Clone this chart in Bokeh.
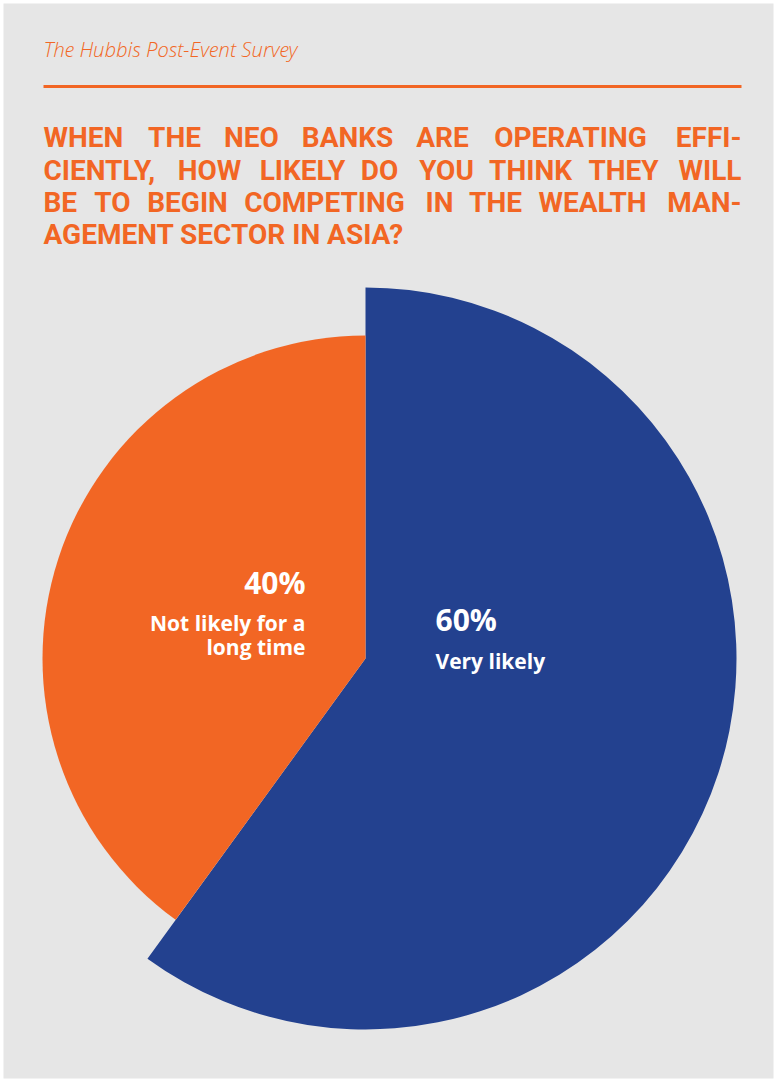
import math
from bokeh.plotting import figure
from bokeh.models import Range1d, BoxAnnotation
from bokeh.core.properties import value
from bokeh.embed import file_html
from bokeh.resources import INLINE

# ---- data ----
categories = ["Very likely", "Not likely for a long time"]
shares = [60, 40]
pct_labels = ["60%", "40%"]
label_lines = [["Very likely"], ["Not likely for a", "long time"]]

subtitle = "The Hubbis Post-Event Survey"
title_lines = [
    ["WHEN", "THE", "NEO", "BANKS", "ARE", "OPERATING", "EFFI-"],
    ["CIENTLY,", "HOW", "LIKELY", "DO", "YOU", "THINK", "THEY", "WILL"],
    ["BE", "TO", "BEGIN", "COMPETING", "IN", "THE", "WEALTH", "MAN-"],
    ["AGEMENT", "SECTOR", "IN", "ASIA?"],
]

# ---- layout / style ----
W, H = 776, 1079
ORANGE = "#F26624"
BLUE = "#23418F"
GRAY = "#E6E6E6"
colors = [BLUE, ORANGE]
radii = [371, 323]
CX, CY = 365, 658  # pixel coords from top
LEFT, RIGHT = 43, 741

# word centre positions (px) to emulate justified text; first word left-aligned,
# last word of justified lines right-aligned
title_word_cx = [
    [None, 174, 251, 347, 442, 570, None],
    [None, 209, 302, 379, 446, 530, 623, None],
    [None, 112, 187, 324, 439, 495, 592, None],
]
title_baselines = [137, 170, 202, 234]
TITLE_FONT = value("Roboto")


def Y(ypx):
    return H - ypx


p = figure(width=W, height=H, x_range=Range1d(0, W), y_range=Range1d(0, H),
           output_backend="svg", toolbar_location=None,
           x_axis_type=None, y_axis_type=None, min_border=0,
           outline_line_color=None, background_fill_color="white",
           border_fill_color="white")

p.add_layout(BoxAnnotation(left=3, right=773, bottom=Y(1078), top=Y(3),
                           fill_color=GRAY, fill_alpha=1, line_color=None,
                           level="underlay"))

# subtitle
p.text(x=[LEFT], y=[Y(48)], text=[subtitle],
       text_font=value("'Open Sans Light', 'Open Sans'"),
       text_font_style="italic", text_font_size="20.5px", text_color=ORANGE,
       text_baseline="alphabetic", text_align="left")

# rule
p.segment(x0=[LEFT], y0=[Y(86)], x1=[RIGHT], y1=[Y(86)], line_color=ORANGE, line_width=3)

# title: justified lines word by word, last line as one string
for li, words in enumerate(title_lines):
    if li == len(title_lines) - 1:
        p.text(x=[LEFT], y=[Y(title_baselines[li])], text=[" ".join(words)],
               text_font=TITLE_FONT, text_font_style="bold", text_font_size="28px",
               text_color=ORANGE, text_baseline="alphabetic", text_align="left")
        continue
    for wi, w in enumerate(words):
        if wi == 0:
            x, a = LEFT, "left"
        elif wi == len(words) - 1:
            x, a = RIGHT, "right"
        else:
            x, a = title_word_cx[li][wi], "center"
        p.text(x=[x], y=[Y(title_baselines[li])], text=[w], text_font=TITLE_FONT,
               text_font_style="bold", text_font_size="28px", text_color=ORANGE,
               text_baseline="alphabetic", text_align=a)

# pie
total = sum(shares)
start = math.pi / 2
for share, col, r in zip(shares, colors, radii):
    end = start - share / total * 2 * math.pi
    p.wedge(x=CX, y=Y(CY), radius=r, start_angle=end, end_angle=start,
            direction="anticlock", fill_color=col, line_color=None)
    start = end

LABEL_FONT = value("Open Sans")
# 60% slice (right side)
p.text(x=[435], y=[Y(619)], text=[pct_labels[0]], text_font=LABEL_FONT,
       text_font_style="bold", text_font_size="30px", text_color="white",
       text_align="left", text_baseline="alphabetic")
p.text(x=[435], y=[Y(660)], text=[label_lines[0][0]], text_font=LABEL_FONT,
       text_font_style="bold", text_font_size="21px", text_color="white",
       text_align="left", text_baseline="alphabetic")
# 40% slice (left side)
p.text(x=[305], y=[Y(582)], text=[pct_labels[1]], text_font=LABEL_FONT,
       text_font_style="bold", text_font_size="30px", text_color="white",
       text_align="right", text_baseline="alphabetic")
for i, ln in enumerate(label_lines[1]):
    p.text(x=[305], y=[Y(622 + 24 * i)], text=[ln], text_font=LABEL_FONT,
           text_font_style="bold", text_font_size="21px", text_color="white",
           text_align="right", text_baseline="alphabetic")

open("out.html", "w").write(file_html(p, INLINE))
